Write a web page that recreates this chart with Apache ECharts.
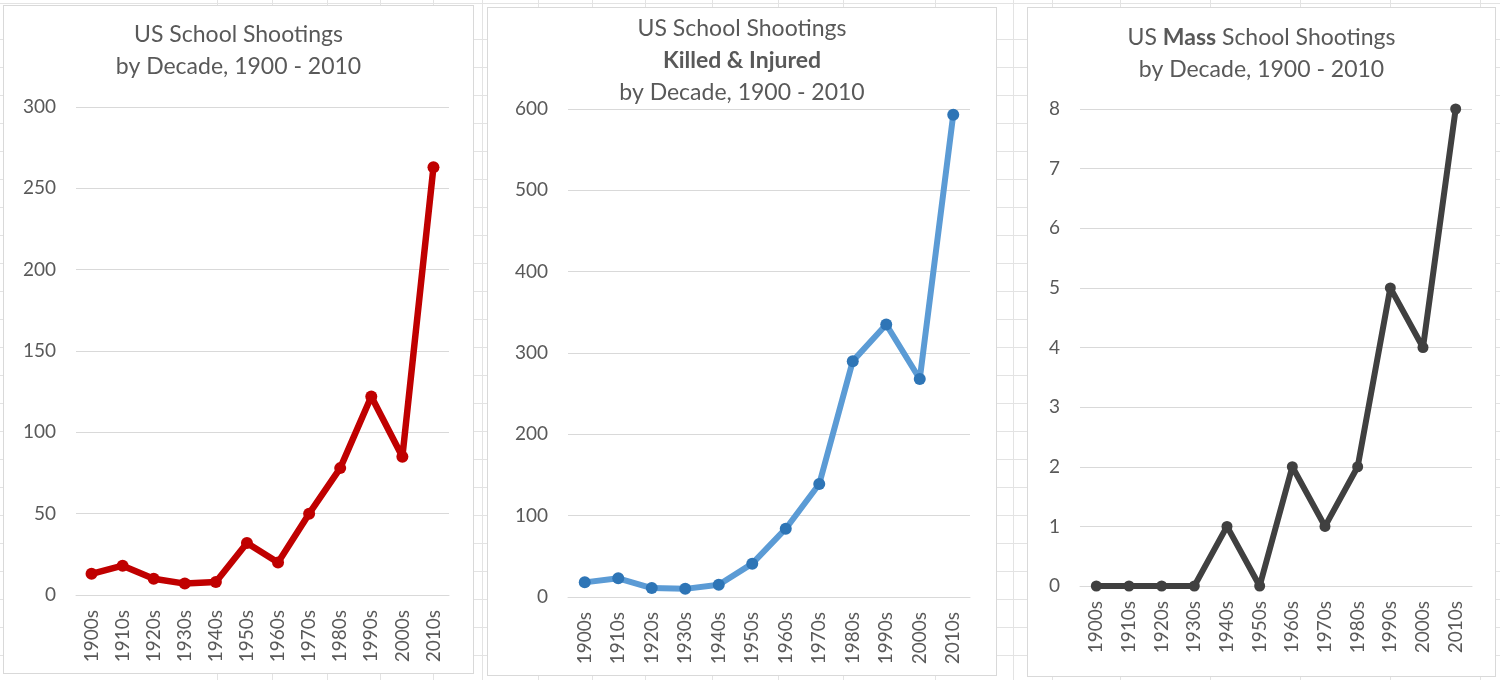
<!DOCTYPE html>
<html>
<head>
<meta charset="utf-8">
<script src="https://cdn.jsdelivr.net/npm/echarts@6/dist/echarts.min.js"></script>
<style>
  html, body { margin:0; padding:0; width:1500px; height:680px; overflow:hidden; }
  body {
    background-color:#ffffff;
    background-image:
      repeating-linear-gradient(to bottom, transparent 0px, transparent 27px, #e3e3e3 27px, #e3e3e3 28px);
    background-position: 0 12px;
  }
  .vline { position:absolute; top:0; width:1px; height:680px; background:#e3e3e3; }
  .panel { position:absolute; border:1px solid #d9d9d9; background:#fff; box-sizing:border-box; }
</style>
</head>
<body>
<div class="vline" style="left:217px"></div>
<div class="vline" style="left:272px"></div>
<div class="vline" style="left:327px"></div>
<div class="vline" style="left:380px"></div>
<div class="vline" style="left:433px"></div>
<div class="vline" style="left:482px"></div>
<div class="vline" style="left:538px"></div>
<div class="vline" style="left:592px"></div>
<div class="vline" style="left:645px"></div>
<div class="vline" style="left:712px"></div>
<div class="vline" style="left:778px"></div>
<div class="vline" style="left:843px"></div>
<div class="vline" style="left:935px"></div>
<div class="vline" style="left:1013px"></div>
<div class="vline" style="left:1052px"></div>
<div class="vline" style="left:1120px"></div>
<div class="vline" style="left:1210px"></div>
<div class="vline" style="left:1300px"></div>
<div class="vline" style="left:1390px"></div>
<div class="vline" style="left:1480px"></div>
<div id="c1" class="panel" style="left:3px;top:5px;width:471px;height:669px;"></div>
<div id="c2" class="panel" style="left:487px;top:7px;width:510px;height:669px;"></div>
<div id="c3" class="panel" style="left:1027px;top:7px;width:469px;height:670px;"></div>
<script>
const decades = ['1900s','1910s','1920s','1930s','1940s','1950s','1960s','1970s','1980s','1990s','2000s','2010s'];
const shootings = [13, 18, 10, 7, 8, 32, 20, 50, 78, 122, 85, 263];
const killedInjured = [18, 23, 11, 10, 15, 41, 84, 139, 290, 335, 268, 593];
const massShootings = [0, 0, 0, 0, 1, 0, 2, 1, 2, 5, 4, 8];

const FONT = 'Lato, "Open Sans", sans-serif';
const TXT = '#595959';

function makeOption(cfg) {
  return {
    animation: false,
    title: {
      text: cfg.title,
      left: 'center',
      top: cfg.titleTop,
      padding: 0,
      textStyle: {
        fontFamily: FONT, fontSize: 23, fontWeight: 'normal', color: TXT, lineHeight: 32,
        rich: {
          n: { fontFamily: FONT, fontSize: 23, fontWeight: 'normal', color: TXT, lineHeight: 32 },
          b: { fontFamily: FONT, fontSize: 23, fontWeight: 'bold', color: TXT, lineHeight: 32 }
        }
      }
    },
    grid: { left: cfg.grid[0], right: cfg.grid[1], top: cfg.grid[2], bottom: cfg.grid[3] },
    xAxis: {
      type: 'category',
      data: decades,
      boundaryGap: true,
      axisLine: { show: true, lineStyle: { color: '#d9d9d9', width: 1 } },
      axisTick: { show: false },
      axisLabel: { rotate: 90, margin: 15, fontFamily: FONT, fontSize: 19, color: TXT, interval: 0 }
    },
    yAxis: {
      type: 'value',
      min: 0, max: cfg.max, interval: cfg.interval,
      axisLine: { show: false },
      axisTick: { show: false },
      axisLabel: { margin: 20, fontFamily: FONT, fontSize: 19, color: TXT },
      splitLine: { lineStyle: { color: '#d9d9d9', width: 1 } }
    },
    series: [{
      type: 'line',
      data: cfg.data,
      symbol: 'circle',
      symbolSize: cfg.symbolSize,
      lineStyle: { color: cfg.lineColor, width: cfg.lineWidth },
      itemStyle: { color: cfg.markerColor, borderWidth: 0 }
    }]
  };
}

const c1 = echarts.init(document.getElementById('c1'));
c1.setOption(makeOption({
  title: '{n|US School Shootings}\n{n|by Decade, 1900 - 2010}',
  titleTop: 13,
  grid: [72, 24, 101, 78],
  max: 300, interval: 50,
  data: shootings,
  lineColor: '#C00000', markerColor: '#C00000', lineWidth: 6.5, symbolSize: 12
}));

const c2 = echarts.init(document.getElementById('c2'));
c2.setOption(makeOption({
  title: '{n|US School Shootings}\n{b|Killed & Injured}\n{n|by Decade, 1900 - 2010}',
  titleTop: 5,
  grid: [80, 26, 101, 78],
  max: 600, interval: 100,
  data: killedInjured,
  lineColor: '#5B9BD5', markerColor: '#2E75B6', lineWidth: 6, symbolSize: 12
}));

const c3 = echarts.init(document.getElementById('c3'));
c3.setOption(makeOption({
  title: '{n|US }{b|Mass}{n| School Shootings}\n{n|by Decade, 1900 - 2010}',
  titleTop: 14,
  grid: [52, 23, 101, 90],
  max: 8, interval: 1,
  data: massShootings,
  lineColor: '#404040', markerColor: '#404040', lineWidth: 6, symbolSize: 11
}));
</script>
</body>
</html>
